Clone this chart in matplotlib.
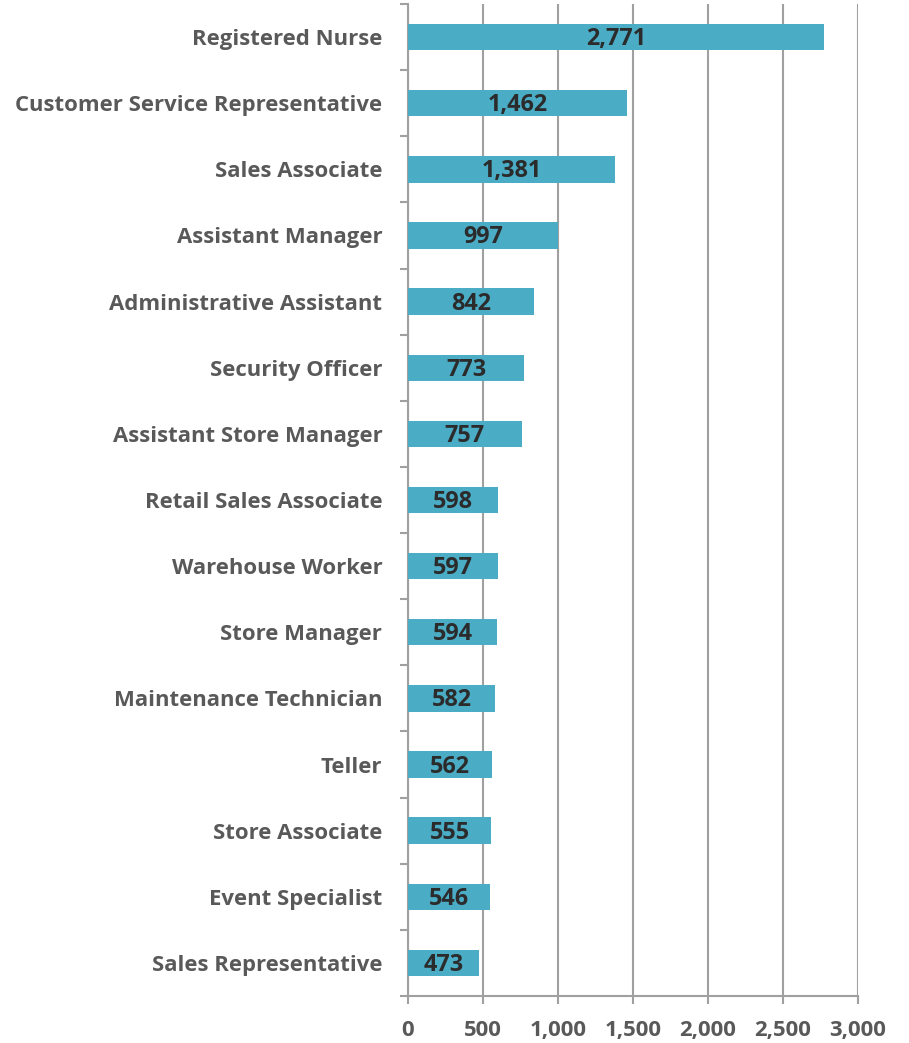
import matplotlib.pyplot as plt
import numpy as np

# job titles, top to bottom as in the chart
titles = ['Registered Nurse', 'Customer Service Representative', 'Sales Associate',
          'Assistant Manager', 'Administrative Assistant', 'Security Officer',
          'Assistant Store Manager', 'Retail Sales Associate', 'Warehouse Worker',
          'Store Manager', 'Maintenance Technician', 'Teller', 'Store Associate',
          'Event Specialist', 'Sales Representative']
counts = [2771, 1462, 1381, 997, 842, 773, 757, 598, 597, 594, 582, 562, 555, 546, 473]
xticks = [0, 500, 1000, 1500, 2000, 2500, 3000]

bar_color = '#4BACC6'
grey = '#595959'
line_grey = '#A0A0A0'
fs = 15.9

plt.rcParams['font.family'] = ['Open Sans', 'DejaVu Sans']

fig = plt.figure(figsize=(9.09, 10.43), dpi=100)
ax = fig.add_axes([408 / 909, 47 / 1043, 450 / 909, 992 / 1043])

n = len(titles)
ypos = np.arange(n)
ax.barh(ypos, counts, height=0.4, color=bar_color, zorder=3)

for y, v in zip(ypos, counts):
    ax.text(v / 2, y + 0.03, f'{v:,}', ha='center', va='center',
            fontsize=16.8, fontweight='bold', color='#2B2B2B', zorder=4)

ax.set_ylim(n - 0.5, -0.5)
ax.set_xlim(0, 3000)

# category labels without ticks, ticks on category boundaries
ax.set_yticks(ypos)
ax.set_yticklabels(titles, fontsize=fs, fontweight='bold', color=grey)
ax.tick_params(axis='y', which='major', length=0, pad=18.5)
ax.set_yticks(np.arange(-0.5, n, 1), minor=True)
ax.tick_params(axis='y', which='minor', length=6, width=1.5, color=line_grey)

ax.set_xticks(xticks)
ax.set_xticklabels([f'{t:,}' for t in xticks], fontsize=fs, fontweight='bold', color=grey)
ax.tick_params(axis='x', length=6, width=1.5, color=line_grey, pad=11)

ax.grid(axis='x', color=line_grey, linewidth=1.5, zorder=0)
for s in ['top', 'right']:
    ax.spines[s].set_visible(False)
for s in ['left', 'bottom']:
    ax.spines[s].set_color(line_grey)
    ax.spines[s].set_linewidth(1.5)

fig.savefig('out.png', dpi=100)
